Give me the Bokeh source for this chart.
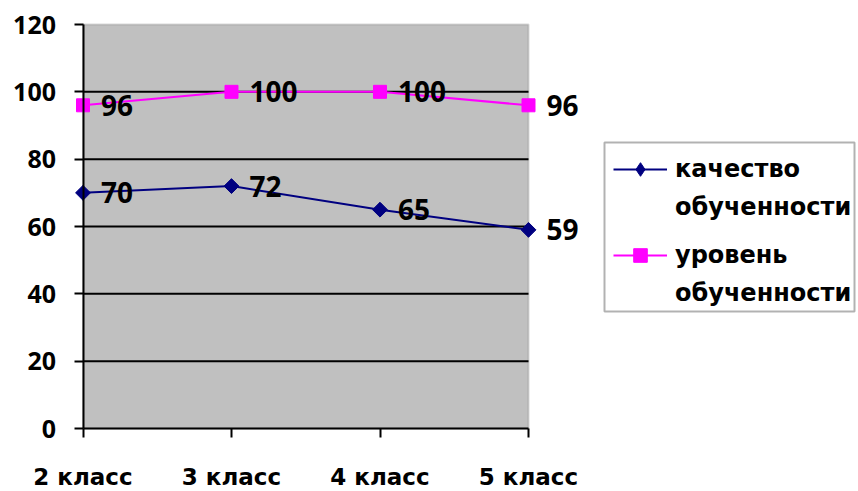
import math
from bokeh.plotting import figure
from bokeh.models import Range1d, FixedTicker, Legend, LegendItem, ColumnDataSource, BoxAnnotation
from bokeh.core.properties import value
from bokeh.embed import file_html
from bokeh.resources import INLINE

classes = ["2 класс", "3 класс", "4 класс", "5 класс"]
kachestvo = [70, 72, 65, 59]
uroven = [96, 100, 100, 96]
y_ticks = [0, 20, 40, 60, 80, 100, 120]
series_names = ["качество", "обученности", "уровень", "обученности"]

NUM_FONT = "Open Sans"
TXT_FONT = "DejaVu Sans"
NAVY = "#000080"
MAGENTA = "#FF00FF"

# layout (pixels); the frame covers the whole canvas, axes use fixed locations
W, H = 858, 491
X0_PX, X3_PX = 82.5, 528.0
Y0_PX, YTOP_PX = 428.0, 24.0

n = len(classes)
xs = list(range(n))
ymax = y_ticks[-1]
ppx = (X3_PX - X0_PX) / (n - 1)
ppy = (Y0_PX - YTOP_PX) / ymax
x_start = -X0_PX / ppx
x_end = x_start + W / ppx
y_start = -(H - Y0_PX) / ppy
y_end = y_start + H / ppy


def px_to_x(px):
    return (px - X0_PX) / ppx


def py_to_y(py):
    return (Y0_PX - py) / ppy


p = figure(width=W, height=H, output_backend="svg", toolbar_location=None,
           x_range=Range1d(x_start, x_end), y_range=Range1d(y_start, y_end),
           min_border_left=0, min_border_top=0, min_border_right=0, min_border_bottom=0)
p.background_fill_color = "white"
p.border_fill_color = "white"
p.outline_line_color = None
p.xgrid.visible = False
p.ygrid.visible = False

# gray plot area
p.add_layout(BoxAnnotation(left=0, right=n - 1, bottom=0, top=ymax,
                           fill_color="#C0C0C0", fill_alpha=1,
                           line_color="#808080", line_width=2, level="underlay"))
# legend frame
p.add_layout(BoxAnnotation(left=px_to_x(604), right=px_to_x(854),
                           top=py_to_y(142), bottom=py_to_y(311),
                           fill_color="white", fill_alpha=1,
                           line_color="black", line_width=2, level="underlay"))

# grid lines within plot area
grid_vals = y_ticks[1:-1]
p.segment(x0=[0] * len(grid_vals), x1=[n - 1] * len(grid_vals), y0=grid_vals, y1=grid_vals,
          line_color="black", line_width=2)

# axes
p.xaxis.ticker = FixedTicker(ticks=xs)
p.xaxis.major_label_overrides = {i: c for i, c in enumerate(classes)}
p.xaxis.bounds = (0, n - 1)
p.xaxis.fixed_location = 0
p.yaxis.ticker = FixedTicker(ticks=y_ticks)
p.yaxis.bounds = (0, ymax)
p.yaxis.fixed_location = 0
for ax in (p.xaxis[0], p.yaxis[0]):
    ax.axis_line_color = "black"
    ax.axis_line_width = 2
    ax.major_tick_line_color = "black"
    ax.major_tick_line_width = 2
    ax.major_tick_out = 9
    ax.major_tick_in = 0
    ax.minor_tick_line_color = None
    ax.major_label_text_font_style = "bold"
    ax.major_label_text_color = "black"
p.yaxis.major_label_text_font = NUM_FONT
p.yaxis.major_label_text_font_size = "25px"
p.yaxis.major_label_standoff = 18
p.xaxis.major_label_text_font = TXT_FONT
p.xaxis.major_label_text_font_size = "23px"
p.xaxis.major_label_standoff = 26

src = ColumnDataSource(dict(x=xs, k=kachestvo, u=uroven,
                            kl=[str(v) for v in kachestvo], ul=[str(v) for v in uroven]))

r1 = p.line("x", "k", source=src, line_color=NAVY, line_width=2)
# diamond used for the legend symbol (hidden under the plotted markers)
m1_leg = p.scatter("x", "k", source=src, marker="diamond", size=13,
                   fill_color=NAVY, line_color=NAVY)
m1 = p.scatter("x", "k", source=src, marker="square", angle=math.pi / 4, size=10.5,
               fill_color=NAVY, line_color=NAVY)
r2 = p.line("x", "u", source=src, line_color=MAGENTA, line_width=2)
m2 = p.scatter("x", "u", source=src, marker="square", size=13,
               fill_color=MAGENTA, line_color=MAGENTA)

for col, ycol in (("kl", "k"), ("ul", "u")):
    p.text("x", ycol, text=col, source=src, x_offset=18, text_baseline="middle",
           text_font=value(NUM_FONT), text_font_style="bold", text_font_size="28px",
           text_color="black")

dummy = p.line(x=[], y=[], line_alpha=0)


def make_legend(items, bottom_px):
    lg = Legend(items=items, location=(613, H - bottom_px))
    lg.border_line_color = None
    lg.background_fill_alpha = 0
    lg.label_text_font = TXT_FONT
    lg.label_text_font_style = "bold"
    lg.label_text_font_size = "24px"
    lg.label_text_color = "black"
    lg.glyph_width = 54
    lg.glyph_height = 34
    lg.label_standoff = 8
    lg.label_height = 28
    lg.spacing = 4
    lg.padding = 0
    lg.margin = 0
    lg.click_policy = "none"
    return lg


legend_a = make_legend([
    LegendItem(label=series_names[0], renderers=[r1, m1_leg]),
    LegendItem(label=series_names[1], renderers=[dummy]),
], 224)
legend_b = make_legend([
    LegendItem(label=series_names[2], renderers=[r2, m2]),
    LegendItem(label=series_names[3], renderers=[dummy]),
], 310)
p.add_layout(legend_a, "center")
p.add_layout(legend_b, "center")

open("out.html", "w").write(file_html(p, INLINE))
